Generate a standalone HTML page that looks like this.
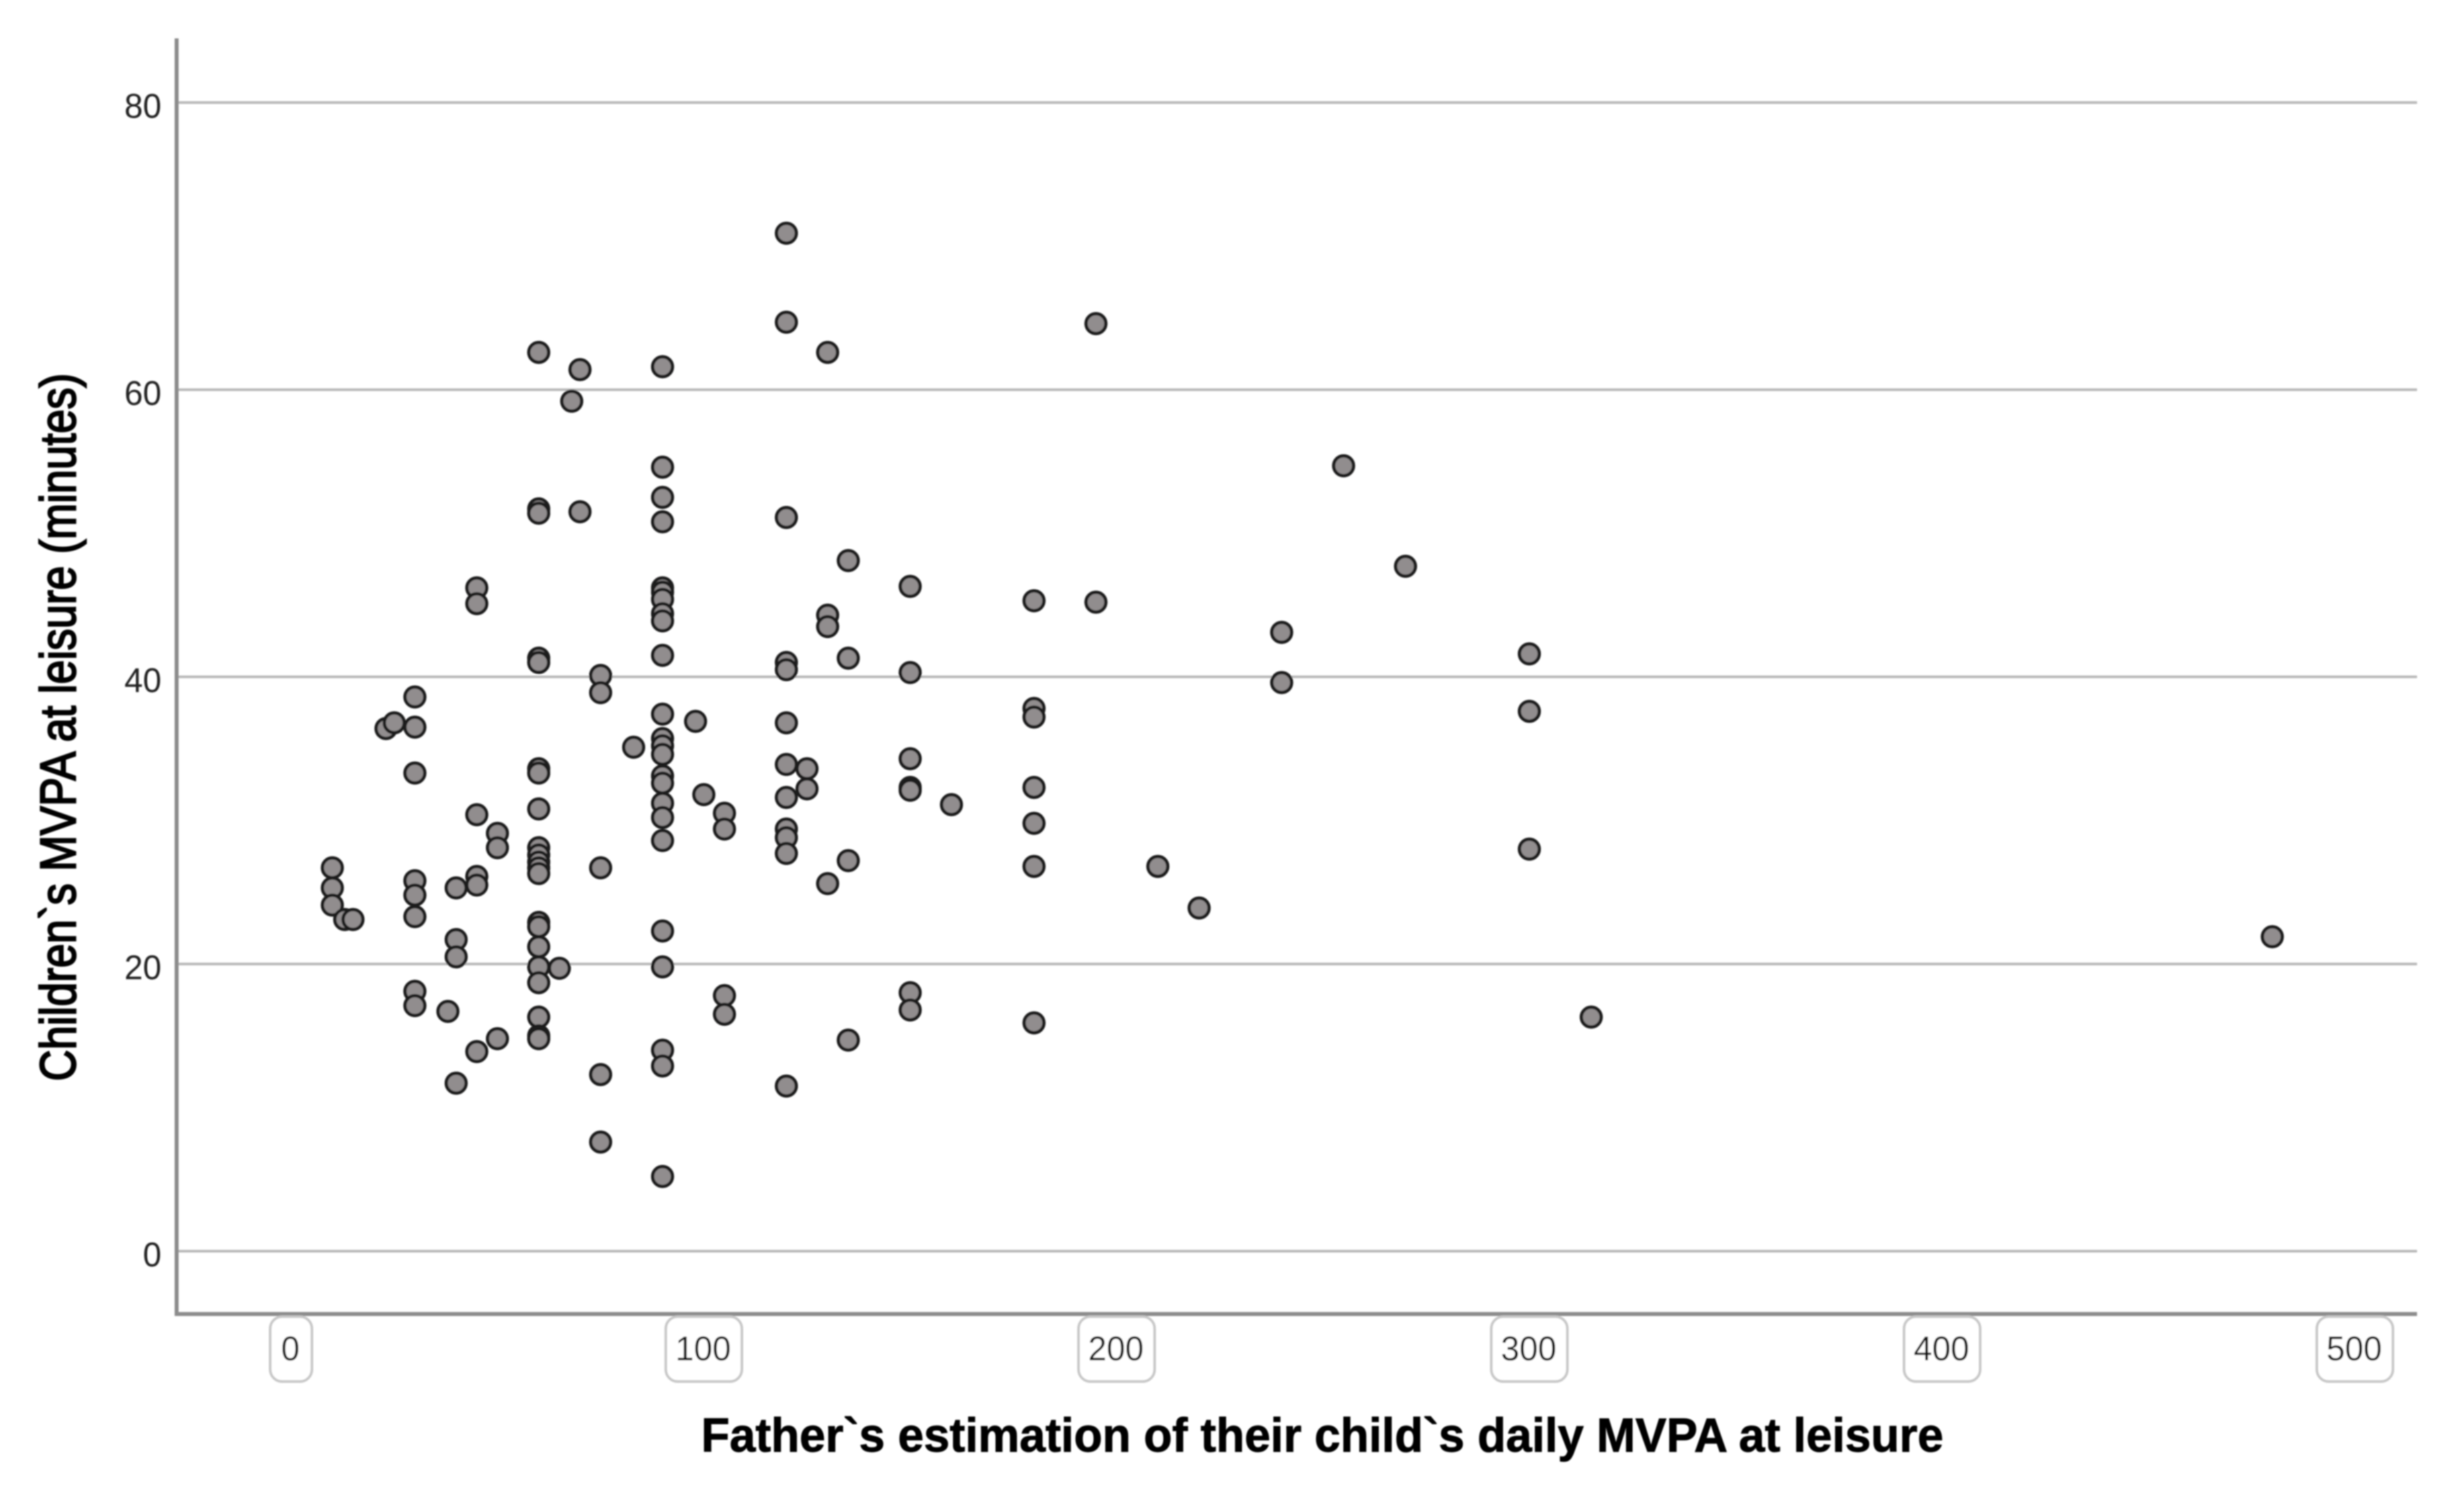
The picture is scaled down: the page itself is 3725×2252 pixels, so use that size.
<!DOCTYPE html>
<html lang="en">
<head>
<meta charset="utf-8">
<title>Children's MVPA vs father's estimation</title>
<style>
html,body{margin:0;padding:0;background:#fff;}
#chart{display:block;width:3725px;height:2252px;font-family:"Liberation Sans",Arial,sans-serif;}
</style>
</head>
<body>
<svg id="chart" xmlns="http://www.w3.org/2000/svg" width="3725" height="2252" viewBox="0 0 3725 2252">
  <defs><filter id="soft" x="-5%" y="-5%" width="110%" height="110%"><feGaussianBlur stdDeviation="1.1"/></filter></defs>
  <rect x="0" y="0" width="3725" height="2252" fill="#ffffff"/>
  <g id="soft-layer" filter="url(#soft)">
    <g id="grid"></g>
    <g id="axes"></g>
    <g id="yticks"></g>
    <g id="xticks"></g>
    <g id="points"></g>
    <text transform="translate(114,1634) rotate(-90)" font-size="76" fill="#000" stroke="#000" stroke-width="2.5" textLength="1070" lengthAdjust="spacingAndGlyphs">Children`s MVPA at leisure (minutes)</text>
    <text x="1060" y="2194" font-size="72" font-weight="700" fill="#000" stroke="#000" stroke-width="1" textLength="1878" lengthAdjust="spacingAndGlyphs">Father`s estimation of their child`s daily MVPA at leisure</text>
  </g>
</svg>
<script>
const yTickValues = [0, 20, 40, 60, 80];
const xTickValues = [0, 100, 200, 300, 400, 500];
const fatherEstimate = [
  10,10,10,
  13,15,23,25,
  30,30,30,30,30,30,30,30,
  38,
  40,40,40,40,
  45,45,45,45,45,45,
  50,50,50,
  60,60,60,60,60,60,60,60,60,60,60,60,60,60,60,60,60,60,60,60,60,
  65,68,70,70,
  75,75,75,75,75,
  83,
  90,90,90,90,90,90,90,90,90,90,90,90,90,90,90,90,90,90,90,90,90,90,90,90,
  98,100,
  105,105,105,105,
  120,120,120,120,120,120,120,120,120,120,120,120,
  125,125,
  130,130,130,130,
  135,135,135,135,
  150,150,150,150,150,150,150,
  160,
  180,180,180,180,180,180,180,
  195,195,
  210,220,
  240,240,
  255,270,
  300,300,300,
  315,480
];
const childMvpa = [
  26.7,25.3,24.1,
  23.1,23.1,36.4,36.8,
  38.6,36.5,33.3,25.8,24.8,23.3,18.1,17.1,
  16.7,
  25.3,21.7,20.5,11.7,
  46.2,45.1,30.4,26.1,25.5,13.9,
  29.1,28.1,14.8,
  62.6,51.7,51.4,41.3,41,33.6,33.3,30.8,28.1,27.6,27.1,26.7,26.3,22.9,22.6,21.2,19.8,18.7,16.3,15,14.8,
  19.7,59.2,61.4,51.5,
  40.1,38.9,26.7,12.3,7.6,
  35.1,
  61.6,54.6,52.5,50.8,46.2,45.9,45.4,44.4,43.9,41.5,37.4,35.7,35.2,34.6,33.1,32.6,31.2,30.2,28.6,22.3,19.8,14,12.9,5.2,
  36.9,31.8,
  30.5,29.4,17.8,16.5,
  70.9,64.7,51.1,41,40.5,36.8,33.9,31.6,29.4,28.8,27.7,11.5,
  33.6,32.2,
  62.6,44.3,43.5,25.6,
  48.1,41.3,27.2,14.7,
  46.3,40.3,34.3,32.3,32.1,18,16.8,
  31.1,
  45.3,37.8,37.2,32.3,29.8,26.8,15.9,
  64.6,45.2,
  26.8,23.9,
  43.1,39.6,
  54.7,47.7,
  41.6,37.6,28,
  16.3,21.9
];

const SVG_NS = 'http://www.w3.org/2000/svg';
const PLOT_LEFT = 267, PLOT_RIGHT = 3654, PLOT_TOP = 58, PLOT_BOTTOM = 1986;
function xScale(v){ return 440 + 6.24 * v; }
function yScale(v){ return 1891 - 21.7 * v; }
function make(tag, attrs, parent){
  const el = document.createElementNS(SVG_NS, tag);
  for (const k in attrs) el.setAttribute(k, attrs[k]);
  parent.appendChild(el);
  return el;
}

const grid = document.getElementById('grid');
const axes = document.getElementById('axes');
const yticks = document.getElementById('yticks');
const xticks = document.getElementById('xticks');
const points = document.getElementById('points');

yTickValues.forEach(function(v){
  const line = make('line', {x1:PLOT_LEFT, x2:PLOT_RIGHT, y1:yScale(v), y2:yScale(v), stroke:'#b9b9b9', 'stroke-width':4}, grid);
  
  
  const label = make('text', {x:244, y:yScale(v) + 23, 'text-anchor':'end', 'font-size':52, fill:'#222', textLength:String(v).length * 28, lengthAdjust:'spacingAndGlyphs'}, yticks);
  label.textContent = v;
  
  
});

const yAxis = make('line', {x1:PLOT_LEFT, x2:PLOT_LEFT, y1:PLOT_TOP, y2:PLOT_BOTTOM + 3, stroke:'#8c8c8c', 'stroke-width':6}, axes);


const xAxis = make('line', {x1:PLOT_LEFT - 3, x2:PLOT_RIGHT, y1:PLOT_BOTTOM, y2:PLOT_BOTTOM, stroke:'#8c8c8c', 'stroke-width':6}, axes);



xTickValues.forEach(function(v){
  const digits = String(v).length;
  const boxW = digits === 1 ? 63 : 115;
  const box = make('rect', {x:xScale(v) - boxW / 2, y:1990, width:boxW, height:98, rx:18, ry:18, fill:'#fff', stroke:'#c8c8c8', 'stroke-width':4}, xticks);
  
  
  const label = make('text', {x:xScale(v) - 1, y:2056, 'text-anchor':'middle', 'font-size':52, fill:'#111', textLength:digits * 28, lengthAdjust:'spacingAndGlyphs'}, xticks);
  label.textContent = v;
  
  
});

fatherEstimate.forEach(function(xv, i){
  const dot = make('circle', {cx:xScale(xv), cy:yScale(childMvpa[i]), r:15, fill:'#918d8e', stroke:'#1e1e1e', 'stroke-width':5}, points);
  
  
});
</script>
</body>
</html>
